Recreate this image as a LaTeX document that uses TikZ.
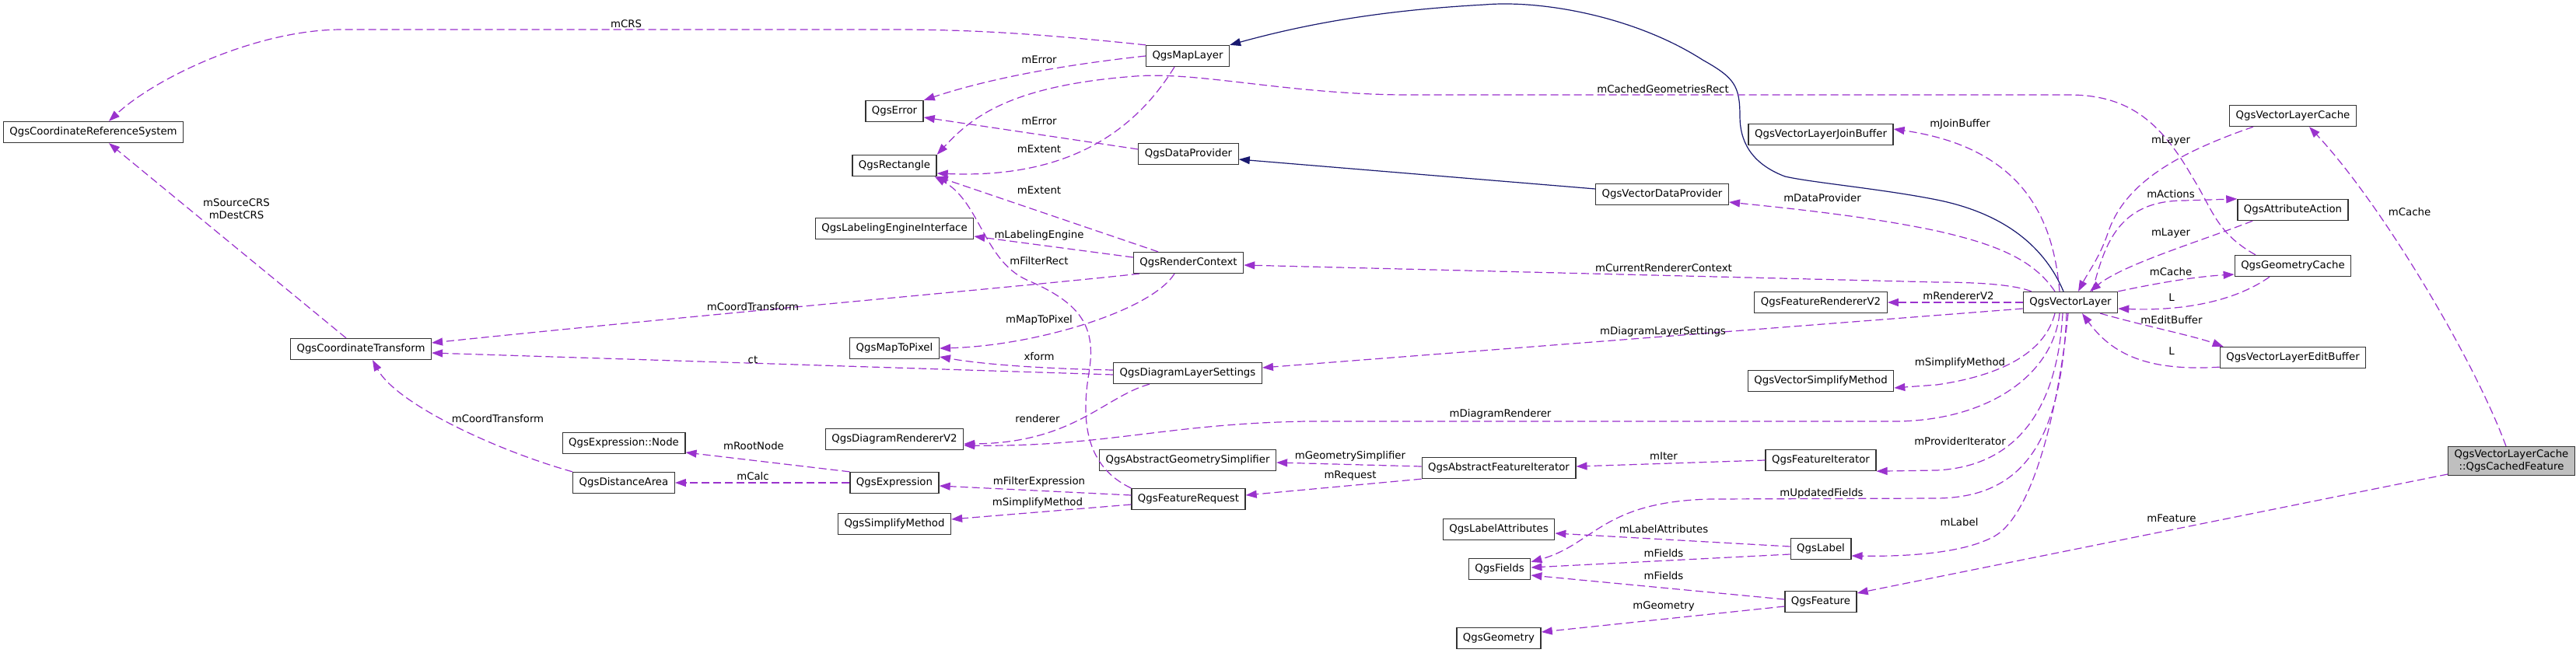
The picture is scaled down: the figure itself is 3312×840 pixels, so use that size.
\documentclass[tikz,border=0pt]{standalone}
\usepackage{fontspec}
\setmainfont{DejaVu Sans}
\usetikzlibrary{arrows.meta}
\definecolor{Orchid}{HTML}{9A32CD}
\definecolor{Midnight}{HTML}{191970}
\definecolor{Shade}{HTML}{BFBFBF}

\begin{document}
\begin{tikzpicture}[x=1pt,y=-1pt,
    font=\fontsize{13.3}{16}\selectfont,
    cls/.style={draw=black!80,line width=1.3pt,fill=white,minimum height=27pt,inner xsep=8pt,inner ysep=0pt},
    uses/.style={Orchid,line width=1.2pt,dash pattern=on 10pt off 5pt,-{Triangle[length=14pt,width=10pt]}},
    isa/.style={Midnight,line width=1.2pt,-{Triangle[length=14pt,width=10pt]}},
    lbl/.style={text=black,inner sep=0pt}]
    \useasboundingbox[fill=white] (0,0) rectangle (3312,840);
    \foreach \nm/\x/\y/\txt in {
      crs/120/170/QgsCoordinateReferenceSystem,
      ct/464/449/QgsCoordinateTransform,
      exprnode/802/570/QgsExpression::Node,
      da/802/621/QgsDistanceArea,
      maplayer/1527/72/QgsMapLayer,
      error/1150/143/QgsError,
      rect/1150/213/QgsRectangle,
      lei/1150/294/QgsLabelingEngineInterface,
      mtp/1150/448/QgsMapToPixel,
      dr2/1150/565/QgsDiagramRendererV2,
      expr/1150/621/QgsExpression,
      sm/1150/674/QgsSimplifyMethod,
      dataprov/1528/198/QgsDataProvider,
      rc/1528/338/QgsRenderContext,
      dls/1527/480/QgsDiagramLayerSettings,
      ags/1527/592/QgsAbstractGeometrySimplifier,
      fr/1528/642/QgsFeatureRequest,
      afi/1927/602/QgsAbstractFeatureIterator,
      la/1927/681/QgsLabelAttributes,
      fields/1928/732/QgsFields,
      geom/1927/821/QgsGeometry,
      vdp/2137/250/QgsVectorDataProvider,
      jb/2341/173/QgsVectorLayerJoinBuffer,
      fr2/2341/389/QgsFeatureRendererV2,
      vsm/2341/490/QgsVectorSimplifyMethod,
      fi/2341/592/QgsFeatureIterator,
      qlabel/2341/706/QgsLabel,
      feature/2341/774/QgsFeature,
      vl/2662/389/QgsVectorLayer,
      vlc/2948/149/QgsVectorLayerCache,
      aa/2948/270/QgsAttributeAction,
      gc/2948/342/QgsGeometryCache,
      eb/2948/460/QgsVectorLayerEditBuffer}
    {
      \node[cls] (\nm) at (\x,\y) {\txt};
    }
    \node[cls,fill=Shade,align=center,inner ysep=4pt] (cf) at (3229,593) {QgsVectorLayerCache\\::QgsCachedFeature};

    \draw[isa] ([xshift=-9pt]vl.north) .. controls (2630,320) and (2580,275) .. (2490,257)
      .. controls (2420,243) and (2330,235) .. (2295,227)
      .. controls (2250,210) and (2237,180) .. (2237,150)
      .. controls (2237,110) and (2230,100) .. (2189,77)
      .. controls (2100,20) and (1980,0) .. (1909,6)
      .. controls (1800,12) and (1700,25) .. (maplayer.north east);
    \draw[isa] ([yshift=7pt]vdp.west) -- ([yshift=-7pt]dataprov.east);

    \draw[uses] (maplayer.north west) .. controls (1350,45) and (1260,38) .. (1150,38) -- (440,38)
      .. controls (330,38) and (200,100) .. ([xshift=20pt]crs.north) node[lbl] at (805,31) {mCRS};
    \draw[uses] (maplayer.west) .. controls (1400,80) and (1290,95) .. (error.north east) node[lbl] at (1336,77) {mError};
    \draw[uses] ([xshift=-17pt]maplayer.south) .. controls (1440,200) and (1330,228) .. ([yshift=-10pt]rect.east) node[lbl] at (1336,192) {mExtent};
    \draw[uses] ([yshift=6pt]dataprov.west) -- ([yshift=-8pt]error.east) node[lbl] at (1336,156) {mError};
    \draw[uses] ([xshift=-39pt]rc.north) -- (rect.south east) node[lbl] at (1336,245) {mExtent};
    \draw[uses] ([yshift=7pt]rc.west) -- ([yshift=-10pt]lei.east) node[lbl] at (1336,303) {mLabelingEngine};
    \draw[uses] ([xshift=8pt]rc.south west) .. controls (1300,370) and (900,405) .. ([yshift=8pt]ct.east) node[lbl] at (968,395) {mCoordTransform};
    \draw[uses] ([xshift=-18pt]rc.south) .. controls (1480,400) and (1330,445) .. (mtp.east) node[lbl] at (1336,412) {mMapToPixel};
    \draw[uses] (fr.north west) .. controls (1395,600) and (1390,540) .. (1400,480)
      .. controls (1410,420) and (1390,390) .. (1320,360)
      .. controls (1265,335) and (1260,260) .. ([xshift=-3pt]rect.south east) node[lbl] at (1336,336) {mFilterRect};
    \draw[uses] ([xshift=-19pt]ct.north) -- ([xshift=20pt]crs.south) node[lbl,align=center] at (304,269) {mSourceCRS\\mDestCRS};
    \draw[uses] (da.north west) .. controls (640,580) and (510,520) .. ([xshift=15pt]ct.south) node[lbl] at (640,539) {mCoordTransform};
    \draw[uses] ([yshift=-2pt]dls.west) -- ([yshift=-5pt]ct.east) node[lbl] at (968,463) {ct};
    \draw[uses] ([yshift=4pt]dls.west) .. controls (1330,474) and (1260,468) .. ([yshift=-11pt]mtp.east) node[lbl] at (1336,459) {xform};
    \draw[uses] ([xshift=-49pt]dls.south) .. controls (1420,510) and (1380,570) .. ([yshift=-6pt]dr2.east) node[lbl] at (1334,539) {renderer};
    \draw[uses] (expr.north west) -- ([yshift=-12pt]exprnode.east) node[lbl] at (969,574) {mRootNode};
    \draw[uses] (expr.west) -- (da.east) node[lbl] at (968,613) {mCalc};
    \draw[uses] ([yshift=5pt]fr.west) -- ([yshift=-4pt]expr.east) node[lbl] at (1336,620) {mFilterExpression};
    \draw[uses] ([yshift=-7pt]fr.west) -- ([yshift=6pt]sm.east) node[lbl] at (1334,647) {mSimplifyMethod};
    \draw[uses] ([yshift=2pt]afi.west) -- ([yshift=-3pt]ags.east) node[lbl] at (1736,587) {mGeometrySimplifier};
    \draw[uses] (afi.south west) -- ([yshift=5pt]fr.east) node[lbl] at (1736,612) {mRequest};
    \draw[uses] (fi.west) -- ([yshift=2pt]afi.east) node[lbl] at (2139,587) {mIter};

    \draw[uses] ([xshift=-48pt]gc.north) .. controls (2850,300) and (2845,270) .. (2820,230)
      .. controls (2780,160) and (2740,122) .. (2660,122) -- (1800,122)
      .. controls (1650,120) and (1540,92) .. (1460,98)
      .. controls (1300,110) and (1250,150) .. (rect.north east) node[lbl] at (2138,115) {mCachedGeometriesRect};
    \draw[uses] ([xshift=-14pt]vl.north) .. controls (2640,280) and (2600,190) .. ([yshift=7pt]jb.east) node[lbl] at (2520,160) {mJoinBuffer};
    \draw[uses] ([xshift=-20pt]vl.north) .. controls (2615,335) and (2570,315) .. (2490,297)
      .. controls (2400,278) and (2300,268) .. ([yshift=-10pt]vdp.east) node[lbl] at (2343,255) {mDataProvider};
    \draw[uses] ([xshift=11pt]vl.north west) .. controls (2590,366) and (2540,363) .. (2490,363) -- ([yshift=-3pt]rc.east) node[lbl] at (2139,345) {mCurrentRendererContext};
    \draw[uses] (vl.west) -- (fr2.east) node[lbl] at (2518,381) {mRendererV2};
    \draw[uses] ([yshift=-8pt]vl.west) -- ([yshift=7pt]dls.east) node[lbl] at (2138,427) {mDiagramLayerSettings};
    \draw[uses] ([xshift=-20pt]vl.south) .. controls (2630,450) and (2580,482) .. (2490,495) -- ([yshift=-9pt]vsm.east) node[lbl] at (2520,467) {mSimplifyMethod};
    \draw[uses] ([xshift=-14pt]vl.south) .. controls (2640,480) and (2560,540) .. (2440,542) -- (1680,542)
      .. controls (1500,545) and (1420,575) .. ([yshift=-8pt]dr2.east) node[lbl] at (1929,533) {mDiagramRenderer};
    \draw[uses] ([xshift=-10pt]vl.south) .. controls (2645,530) and (2590,600) .. (2490,605) -- (fi.south east) node[lbl] at (2520,568) {mProviderIterator};
    \draw[uses] ([xshift=-5pt]vl.south) .. controls (2650,570) and (2600,640) .. (2490,641) -- (2200,642)
      .. controls (2060,645) and (2050,700) .. ([yshift=-5pt]fields.north east) node[lbl] at (2342,635) {mUpdatedFields};
    \draw[uses] ([xshift=-3pt]vl.south) .. controls (2645,540) and (2610,670) .. (2560,692)
      .. controls (2520,712) and (2450,716) .. ([yshift=-9pt]qlabel.east) node[lbl] at (2519,672) {mLabel};

    \draw[uses] ([xshift=31pt]vlc.south west) .. controls (2790,200) and (2730,240) .. (2710,300)
      .. controls (2700,330) and (2685,350) .. ([xshift=10pt]vl.north) node[lbl] at (2791,181) {mLayer};
    \draw[uses] ([xshift=28pt]vl.north) .. controls (2705,320) and (2720,258) .. (2808,258) -- (aa.north west) node[lbl] at (2791,250) {mActions};
    \draw[uses] ([xshift=20pt]aa.south west) .. controls (2830,310) and (2730,340) .. ([xshift=25pt]vl.north) node[lbl] at (2791,300) {mLayer};
    \draw[uses] (vl.north east) .. controls (2770,365) and (2820,356) .. ([yshift=-11pt]gc.west) node[lbl] at (2791,350) {mCache};
    \draw[uses] ([xshift=-30pt]gc.south) .. controls (2870,390) and (2800,400) .. ([yshift=-8pt]vl.east) node[lbl] at (2792,383) {L};
    \draw[uses] ([xshift=-23pt]vl.south east) .. controls (2760,420) and (2820,432) .. ([xshift=5pt]eb.north west) node[lbl] at (2792,412) {mEditBuffer};
    \draw[uses] ([yshift=2pt]eb.south west) .. controls (2760,478) and (2715,455) .. ([xshift=15pt]vl.south) node[lbl] at (2792,452) {L};

    \draw[uses] ([yshift=3pt]qlabel.west) -- ([yshift=-5pt]la.east) node[lbl] at (2139,681) {mLabelAttributes};
    \draw[uses] ([yshift=-7pt]qlabel.west) -- ([yshift=2pt]fields.east) node[lbl] at (2139,712) {mFields};
    \draw[uses] ([yshift=3pt]feature.west) -- ([yshift=-8pt]fields.east) node[lbl] at (2139,741) {mFields};
    \draw[uses] ([yshift=-6pt]feature.west) -- ([yshift=8pt]geom.east) node[lbl] at (2139,780) {mGeometry};
    \draw[uses] ([xshift=-7pt]cf.north) .. controls (3180,460) and (3060,260) .. ([xshift=21pt]vlc.south) node[lbl] at (3098,273) {mCache};
    \draw[uses] ([yshift=-17pt]cf.west) -- ([yshift=11pt]feature.east) node[lbl] at (2792,667) {mFeature};
  \end{tikzpicture}
\end{document}
